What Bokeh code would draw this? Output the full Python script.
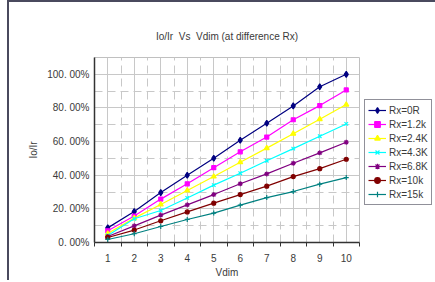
from bokeh.plotting import figure
from bokeh.models import FixedTicker, Legend, LegendItem, Grid, Range1d
from bokeh.embed import file_html
from bokeh.resources import INLINE

# ---- data ----
vdim = [1, 2, 3, 4, 5, 6, 7, 8, 9, 10]
series_names = ["Rx=0R", "Rx=1.2k", "Rx=2.4K", "Rx=4.3K", "Rx=6.8K", "Rx=10k", "Rx=15k"]
rx_0r = [8.7, 18.4, 29.7, 40.0, 50.1, 60.8, 70.9, 81.2, 92.6, 100.0]
rx_1k2 = [7.0, 15.7, 25.8, 34.9, 44.5, 53.9, 62.7, 73.0, 81.4, 90.7]
rx_2k4 = [5.3, 14.5, 22.6, 30.9, 39.2, 47.7, 56.1, 64.7, 73.3, 82.0]
rx_4k3 = [4.2, 14.1, 19.0, 26.5, 34.1, 41.2, 48.6, 55.8, 63.2, 70.5]
rx_6k8 = [3.6, 9.9, 16.3, 22.4, 28.5, 34.9, 40.8, 47.1, 53.3, 59.6]
rx_10k = [3.0, 7.4, 12.9, 18.2, 23.4, 28.5, 33.5, 39.2, 43.9, 49.5]
rx_15k = [1.8, 5.2, 9.5, 13.7, 17.5, 22.2, 26.7, 30.3, 34.7, 38.6]
y_ticks = [0, 20, 40, 60, 80, 100]
y_tick_labels = ["0. 00%", "20. 00%", "40. 00%", "60. 00%", "80. 00%", "100. 00%"]

series = [rx_0r, rx_1k2, rx_2k4, rx_4k3, rx_6k8, rx_10k, rx_15k]
colors = ["#000080", "#FF00FF", "#FFFF00", "#00FFFF", "#800080", "#800000", "#008080"]
markers = ["diamond", "square", "triangle", "x", "asterisk", "circle", "cross"]
msizes = [6, 4, 5, 5, 5, 4, 5]

FONT = "Liberation Sans"
TXT = "#3a3a3a"

p = figure(frame_width=265, frame_height=185,
           min_border_left=85, min_border_top=55, min_border_right=0, min_border_bottom=38,
           x_range=Range1d(0.5, 10.5), y_range=Range1d(0, 110),
           output_backend="svg", toolbar_location=None,
           title="Io/Ir \u00a0Vs \u00a0Vdim (at difference Rx)")
p.styles = {"border-top": "2px solid #4a4a5e", "border-left": "2px solid #4a4a5e",
            "margin-left": "7px"}

p.title.align = "center"
p.title.vertical_align = "middle"
p.title.text_font = FONT
p.title.text_font_size = "10px"
p.title.text_font_style = "normal"
p.title.text_color = TXT
p.title.standoff = 30
p.title.offset = 3

p.outline_line_color = "#c0c0c0"
p.outline_line_width = 1

# grids
grid_col = "#c8c8c8"
p.xgrid.ticker = FixedTicker(ticks=vdim)
p.ygrid.ticker = FixedTicker(ticks=[20, 40, 60, 80, 100])
for g in (p.xgrid[0], p.ygrid[0]):
    g.grid_line_color = grid_col
    g.grid_line_width = 1
minor_x = [v + 0.5 for v in vdim[:-1]]
minor_y = [t + 10 for t in y_ticks[:-1]]
gx = Grid(dimension=0, ticker=FixedTicker(ticks=minor_x), grid_line_color=grid_col,
          grid_line_dash="8 5", grid_line_width=1)
gy = Grid(dimension=1, ticker=FixedTicker(ticks=minor_y), grid_line_color=grid_col,
          grid_line_dash="8 5", grid_line_width=1)
p.add_layout(gx)
p.add_layout(gy)

# axes
xa = p.xaxis[0]
xa.ticker = FixedTicker(ticks=vdim, minor_ticks=[0.5] + [v + 0.5 for v in vdim])
xa.axis_label = "Vdim"
xa.major_tick_line_color = None
xa.major_tick_out = 4
xa.major_tick_in = 0
xa.minor_tick_out = 4
xa.minor_tick_in = 0
xa.minor_tick_line_color = "#333333"
xa.major_label_standoff = 7
xa.axis_label_standoff = 2

ya = p.yaxis[0]
ya.ticker = FixedTicker(ticks=y_ticks)
ya.major_label_overrides = {t: l for t, l in zip(y_ticks, y_tick_labels)}
ya.axis_label = "Io/Ir"
ya.major_tick_line_color = None
ya.major_tick_out = 0
ya.major_tick_in = 0
ya.minor_tick_line_color = None
ya.major_label_standoff = 5
ya.axis_label_standoff = 5

for a in (xa, ya):
    a.axis_line_color = "#333333"
    a.axis_line_width = 1.5
    a.major_label_text_font = FONT
    a.major_label_text_font_size = "10px"
    a.major_label_text_color = TXT
    a.axis_label_text_font = FONT
    a.axis_label_text_font_size = "10px"
    a.axis_label_text_font_style = "normal"
    a.axis_label_text_color = TXT

items = []
for name, vals, col, mk, ms in zip(series_names, series, colors, markers, msizes):
    ln = p.line(vdim, vals, line_color=col, line_width=1.2)
    sc = p.scatter(vdim, vals, marker=mk, size=ms, fill_color=col, line_color=col, line_width=1.2)
    items.append(LegendItem(label=name, renderers=[ln, sc]))

legend = Legend(items=items, location=(5, 37), margin=0, padding=3, spacing=0,
                label_height=14, glyph_height=14, glyph_width=18, label_standoff=3,
                label_text_font=FONT, label_text_font_size="10px", label_text_color=TXT,
                border_line_color="#222233", border_line_width=1.5,
                background_fill_color="white")
p.add_layout(legend, "right")

open("out.html", "w").write(file_html(p, INLINE))
